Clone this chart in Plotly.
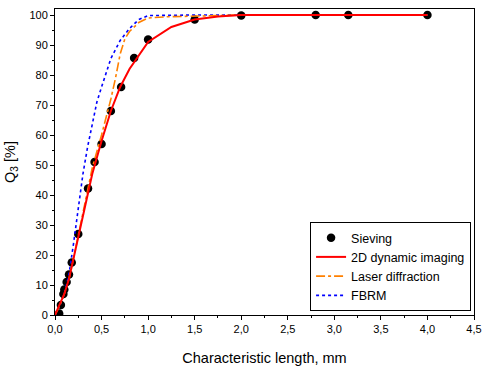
import plotly.graph_objects as go

sieve_x = [0.045, 0.063, 0.09, 0.1, 0.125, 0.15, 0.18, 0.25, 0.355, 0.425, 0.5, 0.6, 0.71, 0.85, 1.0, 1.5, 2.0, 2.8, 3.15, 4.0]
sieve_y = [0.5, 3.3, 7, 8.5, 11, 13.5, 17.5, 27, 42.2, 51, 57, 68, 76, 85.7, 91.8, 98.5, 99.8, 100, 100, 100]

dia_x = [0, 0.05, 0.1, 0.15, 0.2, 0.3, 0.4, 0.5, 0.6, 0.7, 0.8, 1.0, 1.25, 1.5, 1.75, 2.0, 2.5, 3.0, 3.5, 4.0]
dia_y = [0, 3.5, 7, 12, 19, 33, 47, 58, 68, 76, 82, 91, 96, 98.5, 99.5, 100, 100, 100, 100, 100]

laser_x = [0, 0.05, 0.1, 0.15, 0.2, 0.3, 0.4, 0.5, 0.55, 0.6, 0.65, 0.7, 0.75, 0.8, 0.9, 1.0, 1.2, 1.5, 2.0, 2.5, 3.0, 3.5, 4.0]
laser_y = [0, 3, 7, 12, 19, 34, 49, 60, 66, 72, 79, 87, 92, 94.5, 97.5, 99, 99.4, 99.6, 100, 100, 100, 100, 100]

fbrm_x = [0, 0.05, 0.1, 0.15, 0.2, 0.25, 0.3, 0.35, 0.4, 0.45, 0.5, 0.6, 0.7, 0.8, 0.9, 1.0, 1.5, 2.0, 2.5, 3.0, 3.5, 4.0]
fbrm_y = [0, 3, 7, 13.5, 24, 36, 47, 56, 64, 71, 76, 85.5, 91.5, 95.5, 98.5, 99.8, 100, 100, 100, 100, 100, 100]

x_ticks = [0, 0.5, 1.0, 1.5, 2.0, 2.5, 3.0, 3.5, 4.0, 4.5]
x_labels = ["0,0", "0,5", "1,0", "1,5", "2,0", "2,5", "3,0", "3,5", "4,0", "4,5"]
y_ticks = [0, 10, 20, 30, 40, 50, 60, 70, 80, 90, 100]

fig = go.Figure()
fig.add_trace(go.Scatter(x=sieve_x, y=sieve_y, mode="markers", name="Sieving",
                         marker=dict(symbol="circle", size=8.5, color="black"), legendrank=1))
fig.add_trace(go.Scatter(x=fbrm_x, y=fbrm_y, mode="lines", name="FBRM",
                         line=dict(color="#0000FF", width=1.6, dash="dot"), legendrank=4))
fig.add_trace(go.Scatter(x=laser_x, y=laser_y, mode="lines", name="Laser diffraction",
                         line=dict(color="#FF8000", width=1.6, dash="dashdot"), legendrank=3))
fig.add_trace(go.Scatter(x=dia_x, y=dia_y, mode="lines", name="2D dynamic imaging",
                         line=dict(color="#FF0000", width=2), legendrank=2))

fig.update_layout(
    width=490, height=371,
    margin=dict(l=55, r=11, t=8, b=55),
    paper_bgcolor="white", plot_bgcolor="white",
    font=dict(family="Liberation Sans, Arial, sans-serif", size=11, color="black"),
    showlegend=True,
    legend=dict(x=0.993, y=0.013, xanchor="right", yanchor="bottom",
                bordercolor="black", borderwidth=1, bgcolor="white",
                font=dict(size=12.5), tracegroupgap=0, itemwidth=30),
    xaxis=dict(range=[0, 4.5], tickvals=x_ticks, ticktext=x_labels,
               showgrid=False, zeroline=False, showline=True, linecolor="black", linewidth=1,
               mirror=True, ticks="outside", ticklen=4, tickcolor="black",
               minor=dict(ticks="outside", ticklen=2, dtick=0.25, tickcolor="black"),
               title=dict(text="Characteristic length, mm", font=dict(size=14.5), standoff=18)),
    yaxis=dict(range=[0, 102], tickvals=y_ticks,
               showgrid=False, zeroline=False, showline=True, linecolor="black", linewidth=1,
               mirror=True, ticks="outside", ticklen=4, tickcolor="black",
               minor=dict(ticks="outside", ticklen=2, dtick=5, tickcolor="black"),
               title=dict(text="Q<sub>3</sub> [%]", font=dict(size=14.5), standoff=10)),
)

fig.write_html("out.html")
